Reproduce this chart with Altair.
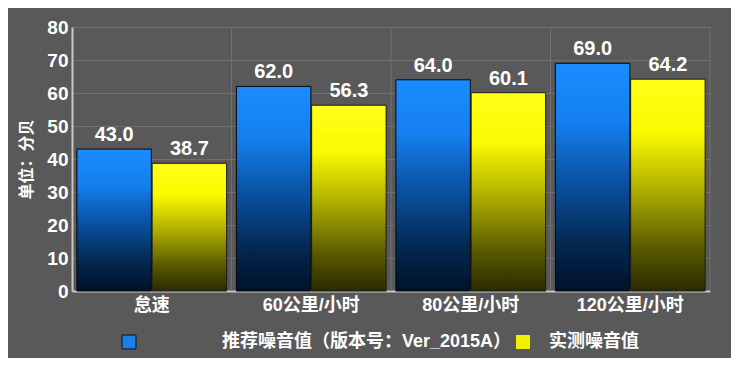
import altair as alt
import pandas as pd

categories = ["怠速", "60公里/小时", "80公里/小时", "120公里/小时"]
series = ["推荐噪音值（版本号：Ver_2015A）", "实测噪音值"]
recommended = [43.0, 62.0, 64.0, 69.0]
measured = [38.7, 56.3, 60.1, 64.2]
y_ticks = [0, 10, 20, 30, 40, 50, 60, 70, 80]

rows = []
for c, r, m in zip(categories, recommended, measured):
    rows.append({"cat": c, "series": series[0], "val": r})
    rows.append({"cat": c, "series": series[1], "val": m})
df = pd.DataFrame(rows)
grid_df = pd.DataFrame({"cat": categories})

FONT = "Liberation Sans, Noto Sans CJK SC, sans-serif"
BG = "#595959"
GRID = "#707070"
AXIS = "#c8c8c8"

blue_grad = alt.LinearGradient(
    gradient="linear", x1=0, x2=0, y1=0, y2=1,
    stops=[alt.GradientStop(color="#1a8cff", offset=0),
           alt.GradientStop(color="#1580f0", offset=0.25),
           alt.GradientStop(color="#0a55a8", offset=0.5),
           alt.GradientStop(color="#03274f", offset=0.8),
           alt.GradientStop(color="#001228", offset=1)])
yellow_grad = alt.LinearGradient(
    gradient="linear", x1=0, x2=0, y1=0, y2=1,
    stops=[alt.GradientStop(color="#ffff1a", offset=0),
           alt.GradientStop(color="#fafa00", offset=0.25),
           alt.GradientStop(color="#b5b500", offset=0.5),
           alt.GradientStop(color="#5a5a00", offset=0.8),
           alt.GradientStop(color="#2a2a00", offset=1)])

x_axis = alt.Axis(title=None, labelAngle=0, labelAlign="center",
                  bandPosition=0.5, ticks=False, grid=False,
                  domainColor=AXIS, domainWidth=2,
                  labelColor="white", labelFontSize=18,
                  labelFontWeight="bold", labelFont=FONT,
                  labelPadding=5, labelLimit=0)
x_scale = alt.Scale(paddingInner=0, paddingOuter=0)
x_enc = alt.X("cat:N", sort=categories, scale=x_scale, axis=x_axis)
xoff_enc = alt.XOffset("series:N", sort=series,
                       scale=alt.Scale(domain=series, paddingInner=0.01,
                                       paddingOuter=0.065))
y_enc = alt.Y("val:Q", scale=alt.Scale(domain=[0, 80], nice=False),
              axis=alt.Axis(values=y_ticks, title="单位：分贝", ticks=False,
                            grid=True, gridColor=GRID, gridWidth=1,
                            domainColor=AXIS, domainWidth=2,
                            labelColor="white", labelFontSize=19,
                            labelFontWeight="bold", labelFont=FONT,
                            labelPadding=4,
                            titleColor="white", titleFontSize=16,
                            titleFontWeight="bold", titleFont=FONT,
                            titlePadding=12))

base = alt.Chart(df)

vgrid = alt.Chart(grid_df).mark_rule(color=GRID, strokeWidth=1).encode(
    x=alt.X("cat:N", sort=categories, scale=x_scale, axis=x_axis,
            bandPosition=1))

bars_blue = base.transform_filter(alt.datum.series == series[0]).mark_bar(
    color=blue_grad, stroke="#050505", strokeWidth=1).encode(
    x=x_enc, xOffset=xoff_enc, y=y_enc)
bars_yellow = base.transform_filter(alt.datum.series == series[1]).mark_bar(
    color=yellow_grad, stroke="#1a1a1a", strokeWidth=1).encode(
    x=x_enc, xOffset=xoff_enc, y=y_enc)

labels = base.mark_text(color="white", fontSize=20, fontWeight="bold",
                        font=FONT, baseline="alphabetic", dy=-8).encode(
    x=x_enc, xOffset=xoff_enc, y=y_enc,
    text=alt.Text("val:Q", format=".1f"))

leg_common = dict(orient="none", title=None, symbolType="square",
                  symbolSize=196, symbolOpacity=1, symbolStrokeColor="#111111",
                  symbolStrokeWidth=1, labelFontSize=18, labelFont=FONT,
                  labelColor="white", labelFontWeight="bold", padding=0,
                  labelLimit=0)

leg1 = base.transform_filter(alt.datum.series == series[0]).mark_point(
    filled=True, opacity=0).encode(
    x=x_enc, xOffset=xoff_enc, y=y_enc,
    color=alt.Color("series:N",
                    scale=alt.Scale(domain=[series[0]], range=["#1a7fe8"]),
                    legend=alt.Legend(legendX=48, legendY=306, labelOffset=84,
                                      **leg_common)))
leg2 = base.transform_filter(alt.datum.series == series[1]).mark_point(
    filled=True, opacity=0, color="#f0f000").encode(
    x=x_enc, xOffset=xoff_enc, y=y_enc,
    shape=alt.Shape("series:N",
                    scale=alt.Scale(domain=[series[1]], range=["square"]),
                    legend=alt.Legend(legendX=442, legendY=306, labelOffset=17,
                                      symbolFillColor="#f0f000",
                                      **leg_common)))

chart = alt.layer(vgrid, bars_blue, bars_yellow, labels, leg1, leg2).properties(
    width=638, height=264,
    background=BG,
    padding={"left": 64, "top": 19, "right": 21, "bottom": 67},
    autosize=alt.AutoSizeParams(type="none"),
).configure_view(stroke=None)

chart.save("out.html", embed_options={"renderer": "svg", "actions": False})
